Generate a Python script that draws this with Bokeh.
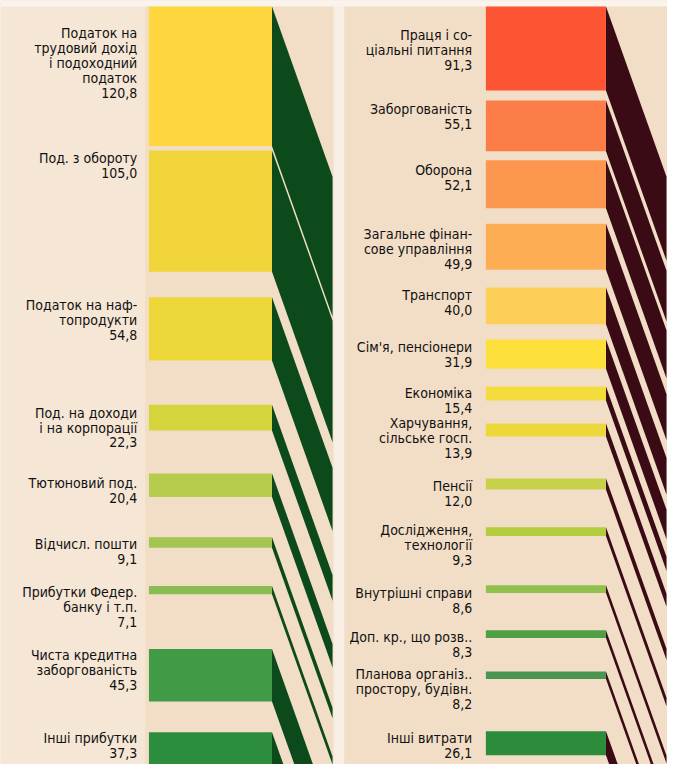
from bokeh.plotting import figure
from bokeh.models import Range1d, ColumnDataSource, BoxAnnotation
from bokeh.core.properties import value
from bokeh.embed import file_html
from bokeh.resources import INLINE

# ---------------- data ----------------
income_names = [
    "Податок на\nтрудовий дохід\nі подоходний\nподаток",
    "Под. з обороту",
    "Податок на наф-\nтопродукти",
    "Под. на доходи\nі на корпорації",
    "Тютюновий под.",
    "Відчисл. пошти",
    "Прибутки Федер.\nбанку і т.п.",
    "Чиста кредитна\nзаборгованість",
    "Інші прибутки",
]
income_values = [120.8, 105.0, 54.8, 22.3, 20.4, 9.1, 7.1, 45.3, 37.3]
income_colors = ["#fdd73d", "#f2d53a", "#eed739", "#d5d43c", "#b7cb4c",
                 "#a2c552", "#8bbb55", "#419a45", "#2d8d3f"]

spending_names = [
    "Праця і со-\nціальні питання",
    "Заборгованість",
    "Оборона",
    "Загальне фінан-\nсове управління",
    "Транспорт",
    "Сім'я, пенсіонери",
    "Економіка",
    "Харчування,\nсільське госп.",
    "Пенсії",
    "Дослідження,\nтехнології",
    "Внутрішні справи",
    "Доп. кр., що розв..",
    "Планова організ..\nпростору, будівн.",
    "Інші витрати",
]
spending_values = [91.3, 55.1, 52.1, 49.9, 40.0, 31.9, 15.4, 13.9, 12.0,
                   9.3, 8.6, 8.3, 8.2, 26.1]
spending_colors = ["#fd5533", "#fc7d48", "#fd974f", "#fdae55", "#fdcf58",
                   "#fde03c", "#f4dc3e", "#ecd83a", "#c6d24a", "#b4cd3f",
                   "#90c04e", "#4f9f45", "#4c9550", "#2c8c3c"]

# ---------------- layout ----------------
W, H = 667, 764                # figure size on the page
REF_W, REF_H = 683, 780        # design canvas (scaled into the figure)
S_L, S_R = 1.18, 0.94          # design px per unit, left / right column
GAPS_L = [4.5, 26, 45, 44, 41, 39, 56, 31.5]                      # px
GAPS_R = [10.2, 9.2, 16, 18.1, 15.4, 18, 23.5, 42.9, 38.7, 50.3,
          37.9, 34.2, 53.3]                                      # px
LAB_OFF_L = [19, 0, 0, 0, 2, -1, -2, -2, -2]                      # px
LAB_OFF_R = [21, 1, 2, 2, 0, 0, -1, -9, 0, -5, 0, -1, -5, -1]     # px
BAR_L = (152, 278)
BAR_R = (497, 620)
LABEL_X_L, LABEL_X_R = 140, 483
DEPTH_X, DEPTH_Y = 62, 174     # px
FIRST_TOP = 6                  # design px of first bar top
FONT = "DejaVu Sans Condensed"
FONT_SIZE = "14px"


def fmt(v):
    return f"{v:.1f}".replace(".", ",")


def column(values, gaps, scale, offs):
    tops, bots = [], []
    t = 0.0
    for i, v in enumerate(values):
        tops.append(t)
        bots.append(t + v)
        if i < len(gaps):
            t = t + v + gaps[i] / scale
    lab_y = [tp + o / scale for tp, o in zip(tops, offs)]
    return tops, bots, lab_y


p = figure(width=W, height=H, output_backend="svg", toolbar_location=None,
           x_range=Range1d(0, REF_W),
           y_range=Range1d((REF_H - FIRST_TOP) / S_L, -FIRST_TOP / S_L),
           x_axis_type=None, y_axis_type=None, min_border=0)
p.extra_y_ranges = {"r": Range1d((REF_H - FIRST_TOP) / S_R, -FIRST_TOP / S_R)}
p.grid.visible = False
p.outline_line_color = None
p.background_fill_color = "#f2dec6"
p.border_fill_color = "#f2dec6"
p.add_layout(BoxAnnotation(right=148, fill_color="#f5e6d5", fill_alpha=1,
                           line_color=None, level="underlay"))
p.add_layout(BoxAnnotation(left=341, right=352, fill_color="#f8eee3",
                           fill_alpha=1, line_color=None, level="underlay"))
p.add_layout(BoxAnnotation(bottom=0, fill_color="#faf4ec", fill_alpha=1,
                           line_color=None, level="underlay"))


def draw(names, values, colors, gaps, scale, offs, bx, lx, side_color, rng):
    tops, bots, lab_y = column(values, gaps, scale, offs)
    dyu = DEPTH_Y / scale
    kw = {} if rng is None else {"y_range_name": rng}
    # side faces
    xs = [[bx[1], bx[1] + DEPTH_X, bx[1] + DEPTH_X, bx[1]] for _ in values]
    ys = [[t, t + dyu, b + dyu, b] for t, b in zip(tops, bots)]
    p.patches(xs, ys, fill_color=side_color, line_color=None, **kw)
    # fronts
    src = ColumnDataSource(dict(top=tops, bottom=bots, color=colors))
    p.quad(left=bx[0], right=bx[1], top="top", bottom="bottom",
           fill_color="color", line_color=None, source=src, **kw)
    labels = [n + "\n" + fmt(v) for n, v in zip(names, values)]
    tsrc = ColumnDataSource(dict(y=lab_y, text=labels))
    p.text(x=lx, y="y", text="text", source=tsrc, text_align="right",
           text_baseline="top", text_font=value(FONT), text_font_size=FONT_SIZE,
           text_line_height=0.93, text_color="#111111", **kw)


draw(income_names, income_values, income_colors, GAPS_L, S_L, LAB_OFF_L,
     BAR_L, LABEL_X_L, "#0c4a1c", None)
draw(spending_names, spending_values, spending_colors, GAPS_R, S_R, LAB_OFF_R,
     BAR_R, LABEL_X_R, "#3a0b14", "r")

open("out.html", "w").write(file_html(p, INLINE))
